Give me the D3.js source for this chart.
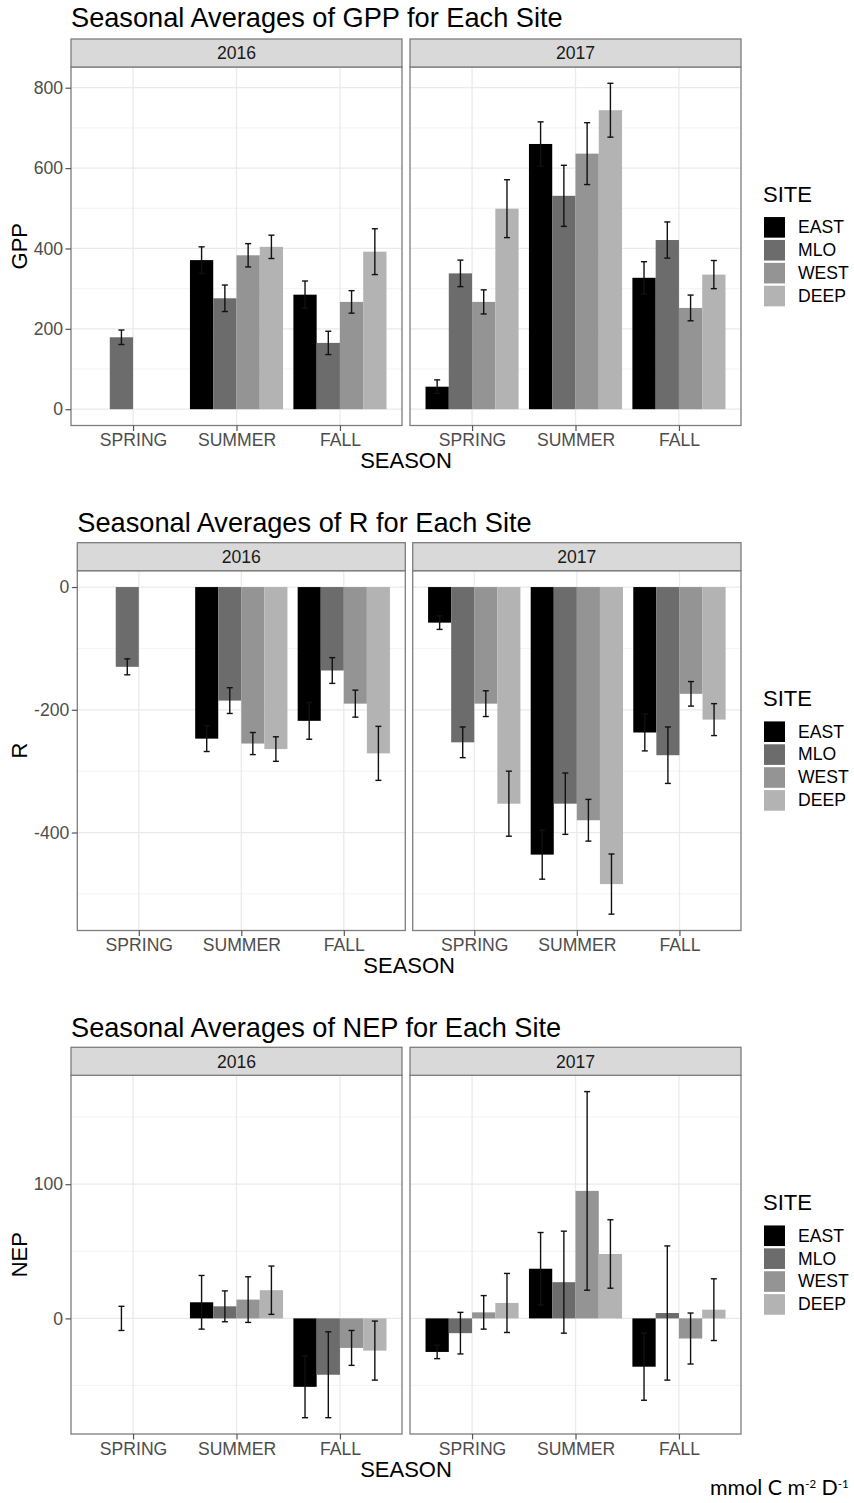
<!DOCTYPE html>
<html><head><meta charset="utf-8">
<script src="https://cdn.jsdelivr.net/npm/d3@7"></script>
<style>
body{margin:0;background:#fff}
svg{display:block}
text{font-family:"Liberation Sans",Arial,Helvetica,sans-serif}
</style>
</head><body>
<svg id="chart" width="854" height="1503"></svg>
<script>
// ---------- data ----------
const seasons = ["SPRING", "SUMMER", "FALL"];
const sites = ["EAST", "MLO", "WEST", "DEEP"];
const years = ["2016", "2017"];

// rows = seasons, columns = sites
const gpp2016    = [[null, 179, null, null], [371, 276, 383, 404], [285, 165, 267, 392]];
const gpp2016Err = [[null, 18, null, null],  [33, 33, 29, 29],     [34, 29, 28, 57]];
const gpp2017    = [[56, 338, 267, 499],     [660, 531, 636, 744], [327, 421, 252, 335]];
const gpp2017Err = [[17, 33, 30, 72],        [55, 76, 77, 67],     [40, 45, 32, 35]];

const r2016    = [[null, -130, null, null], [-247, -185, -255, -264], [-218, -136, -190, -271]];
const r2016Err = [[null, 13, null, null],   [21, 21, 18, 20],         [30, 21, 22, 44]];
const r2017    = [[-58, -253, -190, -353],  [-436, -353, -380, -484], [-237, -274, -174, -216]];
const r2017Err = [[11, 25, 21, 53],         [40, 50, 34, 49],         [30, 46, 20, 26]];

const nep2016    = [[null, 0, null, null], [12, 9, 14, 21],   [-51, -42, -22, -24]];
const nep2016Err = [[null, 9, null, null], [20, 11.5, 17, 18], [23, 32, 13, 22]];
const nep2017    = [[-25, -11, 4.5, 11.5], [37, 27, 95, 48],   [-36, 4, -15, 6.5]];
const nep2017Err = [[5, 15.5, 12.5, 22],   [27, 38, 74, 25.5], [25, 50, 19, 23]];

const gppTicks = [0, 200, 400, 600, 800];
const rTicks = [-400, -200, 0];
const nepTicks = [0, 100];

const titles = ["Seasonal Averages of GPP for Each Site", "Seasonal Averages of R for Each Site", "Seasonal Averages of NEP for Each Site"];
const yLabels = ["GPP", "R", "NEP"];
const xLabel = "SEASON";
const legendTitle = "SITE";

// ---------- styles / layout ----------
const palette = ["#000000", "#6C6C6C", "#949494", "#B3B3B3"];
const layouts = [
  {titleX: 71, titleY: 27, stripTop: 39, panelTop: 67, panelBottom: 425.5, panels: [[71, 402], [410, 741]]},
  {titleX: 77.3, titleY: 531.7, stripTop: 542.7, panelTop: 570.7, panelBottom: 930.5, panels: [[77.3, 405.3], [412.7, 741]]},
  {titleX: 71, titleY: 1036.7, stripTop: 1047.3, panelTop: 1075.3, panelBottom: 1434, panels: [[71, 402], [410, 741]]}
];
const charts = [
  {data: [gpp2016, gpp2017], err: [gpp2016Err, gpp2017Err], ticks: gppTicks},
  {data: [r2016, r2017], err: [r2016Err, r2017Err], ticks: rTicks},
  {data: [nep2016, nep2017], err: [nep2016Err, nep2017Err], ticks: nepTicks}
];

const svg = d3.select("#chart");
svg.append("rect").attr("width", 854).attr("height", 1503).attr("fill", "#fff");

const FS_AXIS = 17.6, FS_TITLE = 27.2, FS_ATITLE = 22;
const BORDER = "#7d7d7d";

charts.forEach((ch, ci) => {
  const L = layouts[ci];
  const g = svg.append("g");
  // y extent from values and error bars, ggplot-like 5% expansion
  let lo = 0, hi = 0;
  ch.data.forEach((yr, yi) => yr.forEach((row, si) => row.forEach((v, k) => {
    if (v == null) return;
    const e = ch.err[yi][si][k] || 0;
    lo = Math.min(lo, v - e, v); hi = Math.max(hi, v + e, v);
  })));
  const pad = (hi - lo) * 0.05;
  const y = d3.scaleLinear().domain([lo - pad, hi + pad]).range([L.panelBottom, L.panelTop]);
  const step = ch.ticks[1] - ch.ticks[0];
  const minors = [];
  for (let m = ch.ticks[0] - step / 2 - step * 5; m <= hi + pad; m += step) {
    if (m >= lo - pad) minors.push(m);
  }

  // title
  g.append("text").attr("x", L.titleX).attr("y", L.titleY)
    .attr("font-size", FS_TITLE).attr("fill", "#000").text(titles[ci]);

  years.forEach((yr, pi) => {
    const [x0, x1] = L.panels[pi];
    const x = d3.scalePoint().domain(seasons).range([x0, x1]).padding(0.6);
    const inner = d3.scaleBand().domain(sites).range([-0.45 * x.step(), 0.45 * x.step()]);
    const pg = g.append("g");

    pg.append("rect").attr("x", x0).attr("y", L.panelTop).attr("width", x1 - x0)
      .attr("height", L.panelBottom - L.panelTop).attr("fill", "#fff");
    // grid
    pg.selectAll(".minor").data(minors).join("line")
      .attr("x1", x0).attr("x2", x1).attr("y1", d => y(d)).attr("y2", d => y(d))
      .attr("stroke", "#F0F0F0").attr("stroke-width", 0.8);
    pg.selectAll(".major").data(ch.ticks).join("line")
      .attr("x1", x0).attr("x2", x1).attr("y1", d => y(d)).attr("y2", d => y(d))
      .attr("stroke", "#EAEAEA").attr("stroke-width", 1.3);
    pg.selectAll(".vmajor").data(seasons).join("line")
      .attr("x1", d => x(d)).attr("x2", d => x(d)).attr("y1", L.panelTop).attr("y2", L.panelBottom)
      .attr("stroke", "#EAEAEA").attr("stroke-width", 1.3);

    // bars
    const items = [];
    ch.data[pi].forEach((row, si) => row.forEach((v, k) => {
      if (v == null) return;
      items.push({season: seasons[si], site: sites[k], k, v, e: ch.err[pi][si][k]});
    }));
    pg.selectAll(".bar").data(items).join("rect")
      .attr("x", d => x(d.season) + inner(d.site))
      .attr("width", inner.bandwidth())
      .attr("y", d => Math.min(y(d.v), y(0)))
      .attr("height", d => Math.abs(y(d.v) - y(0)))
      .attr("fill", d => palette[d.k]);
    // error bars
    const cap = inner.bandwidth() * 0.13;
    const eb = pg.selectAll(".eb").data(items).join("g")
      .attr("stroke", "#111").attr("stroke-width", 1.4);
    eb.append("line")
      .attr("x1", d => x(d.season) + inner(d.site) + inner.bandwidth() / 2)
      .attr("x2", d => x(d.season) + inner(d.site) + inner.bandwidth() / 2)
      .attr("y1", d => y(d.v - d.e)).attr("y2", d => y(d.v + d.e));
    [-1, 1].forEach(sg => {
      eb.append("line")
        .attr("x1", d => x(d.season) + inner(d.site) + inner.bandwidth() / 2 - cap)
        .attr("x2", d => x(d.season) + inner(d.site) + inner.bandwidth() / 2 + cap)
        .attr("y1", d => y(d.v + sg * d.e)).attr("y2", d => y(d.v + sg * d.e));
    });

    // border
    pg.append("rect").attr("x", x0).attr("y", L.panelTop).attr("width", x1 - x0)
      .attr("height", L.panelBottom - L.panelTop).attr("fill", "none")
      .attr("stroke", BORDER).attr("stroke-width", 1.3);
    // strip
    pg.append("rect").attr("x", x0).attr("y", L.stripTop).attr("width", x1 - x0)
      .attr("height", L.panelTop - L.stripTop).attr("fill", "#D9D9D9")
      .attr("stroke", BORDER).attr("stroke-width", 1.3);
    pg.append("text").attr("x", (x0 + x1) / 2).attr("y", (L.stripTop + L.panelTop) / 2 + 6.3)
      .attr("text-anchor", "middle").attr("font-size", FS_AXIS).attr("fill", "#1A1A1A").text(yr);

    // x axis
    const xa = pg.append("g").attr("transform", `translate(0,${L.panelBottom})`)
      .call(d3.axisBottom(x).tickSize(5.5).tickPadding(2.6).tickSizeOuter(0));
    xa.select(".domain").remove();
    xa.selectAll("line").attr("stroke", "#555").attr("stroke-width", 1.2);
    xa.selectAll("text").attr("font-size", FS_AXIS).attr("fill", "#4D4D4D")
      .attr("font-family", '"Liberation Sans",Arial,sans-serif');

    if (pi === 0) {
      const ya = pg.append("g").attr("transform", `translate(${x0},0)`)
        .call(d3.axisLeft(y).tickValues(ch.ticks).tickFormat(d => String(d)).tickSize(5.5).tickPadding(2.5).tickSizeOuter(0));
      ya.select(".domain").remove();
      ya.selectAll("line").attr("stroke", "#555").attr("stroke-width", 1.2);
      ya.selectAll("text").attr("font-size", FS_AXIS).attr("fill", "#4D4D4D")
        .attr("font-family", '"Liberation Sans",Arial,sans-serif');
    }
  });

  const cY = (L.panelTop + L.panelBottom) / 2;
  // y title
  g.append("text").attr("transform", `translate(26.5,${cY}) rotate(-90)`)
    .attr("text-anchor", "middle").attr("font-size", FS_ATITLE).attr("fill", "#000").text(yLabels[ci]);
  // x title
  g.append("text").attr("x", (L.panels[0][0] + L.panels[1][1]) / 2).attr("y", L.panelBottom + 42.5)
    .attr("text-anchor", "middle").attr("font-size", FS_ATITLE).attr("fill", "#000").text(xLabel);

  // legend
  const lg = g.append("g");
  lg.append("text").attr("x", 763).attr("y", cY - 44.5).attr("font-size", FS_ATITLE).attr("fill", "#000").text(legendTitle);
  const keys = lg.selectAll(".key").data(sites).join("g")
    .attr("transform", (d, i) => `translate(764,${cY - 29.2 + i * 22.9})`);
  keys.append("rect").attr("width", 21).attr("height", 20.6).attr("fill", (d, i) => palette[i]);
  keys.append("text").attr("x", 34).attr("y", 16.2).attr("font-size", FS_AXIS).attr("fill", "#000").text(d => d);
});

// units note
const units = svg.append("text").attr("x", 710).attr("y", 1495)
  .attr("font-size", 18).attr("fill", "#000")
  .style("font-family", 'Lato,"Open Sans",sans-serif');
units.append("tspan").text("mmol C m");
units.append("tspan").attr("dy", -7).attr("font-size", 11.5).text("-2");
units.append("tspan").attr("dy", 7).text(" D");
units.append("tspan").attr("dy", -7).attr("font-size", 11.5).text("-1");
const w = units.node().getComputedTextLength();
if (w > 0) units.attr("font-size", 18 * 143 / w);
</script>
</body></html>
